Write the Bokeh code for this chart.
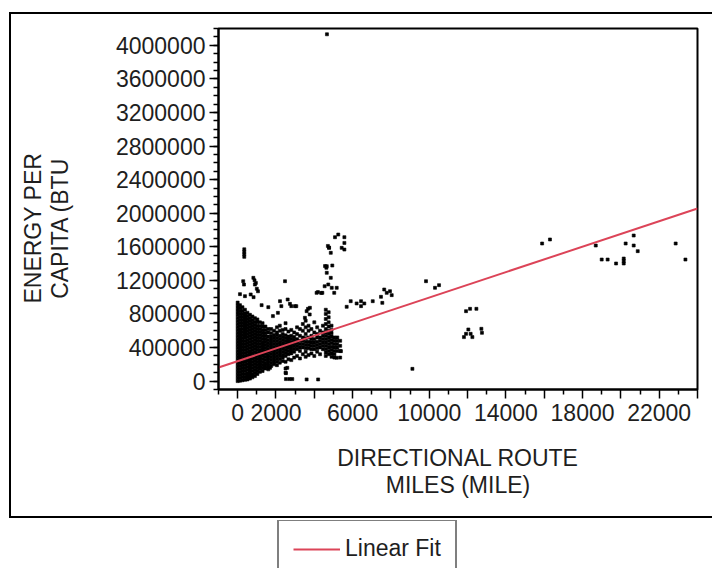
import numpy as np
from bokeh.plotting import figure
from bokeh.layouts import column
from bokeh.models import (Range1d, FixedTicker, Legend, LegendItem,
                          CustomJSTickFormatter, PrintfTickFormatter)
from bokeh.embed import file_html
from bokeh.resources import INLINE

# ---------------- data (x: route miles, y: thousand BTU per capita) ----------------
blob_col_x = [0, 120, 250, 380, 510, 640, 770, 900, 1030, 1160]
blob_col_y = [
    [0, 36, 72, 108, 144, 180, 216, 252, 288, 324, 360, 396, 432, 468, 504, 540, 576, 612, 648, 684, 720, 756, 792, 828, 864, 900, 935],
    [5, 40, 76, 112, 148, 184, 220, 256, 292, 328, 364, 400, 436, 472, 508, 544, 580, 616, 652, 688, 724, 760, 796, 832, 868, 905],
    [10, 46, 82, 118, 154, 190, 226, 262, 298, 334, 370, 406, 442, 478, 514, 550, 586, 622, 658, 694, 730, 766, 802, 838, 880],
    [15, 50, 86, 122, 158, 194, 230, 266, 302, 338, 374, 410, 446, 482, 518, 554, 590, 626, 662, 698, 734, 770, 806, 850],
    [20, 56, 92, 128, 164, 200, 236, 272, 308, 344, 380, 416, 452, 488, 524, 560, 596, 632, 668, 704, 740, 776, 815],
    [30, 66, 102, 138, 174, 210, 246, 282, 318, 354, 390, 426, 462, 498, 534, 570, 606, 642, 678, 714, 750, 790],
    [45, 80, 116, 152, 188, 224, 260, 296, 332, 368, 404, 440, 476, 512, 548, 584, 620, 656, 692, 728, 770],
    [60, 96, 132, 168, 204, 240, 276, 312, 348, 384, 420, 456, 492, 528, 564, 600, 636, 672, 708, 750],
    [85, 120, 156, 192, 228, 264, 300, 336, 372, 408, 444, 480, 516, 552, 588, 624, 660, 700, 735],
    [110, 150, 186, 222, 258, 294, 330, 366, 402, 438, 474, 510, 546, 582, 618, 655, 700],
]

tail_col_x = [1300, 1450, 1600, 1750, 1900, 2050, 2200, 2350, 2500, 2650, 2800, 2950, 3100, 3250,
              3400, 3550, 3700, 3850, 4000, 4150, 4300, 4450, 4600, 4750, 4900, 5050, 5200, 5350]
tail_col_y = [
    [120, 155, 190, 225, 260, 295, 330, 365, 400, 435, 470, 505, 540, 575, 610, 650, 690],
    [150, 185, 220, 255, 290, 325, 360, 395, 430, 465, 500, 535, 570, 610, 650],
    [140, 175, 210, 245, 280, 315, 350, 385, 420, 455, 490, 530, 580, 620],
    [180, 215, 250, 285, 320, 355, 390, 425, 460, 495, 530, 570, 620],
    [200, 235, 270, 305, 340, 375, 410, 445, 480, 515, 550, 600],
    [190, 230, 265, 300, 335, 370, 405, 440, 475, 510, 545, 580, 640],
    [220, 260, 295, 330, 365, 400, 435, 470, 505, 540, 600, 660],
    [240, 280, 315, 350, 385, 420, 455, 490, 525, 560, 610],
    [100, 150, 230, 300, 335, 370, 405, 440, 475, 510, 545, 620, 690],
    [260, 320, 355, 390, 425, 460, 495, 530, 590],
    [250, 330, 365, 400, 435, 470, 505, 540, 610],
    [280, 350, 385, 420, 455, 490, 525, 580],
    [300, 380, 415, 450, 500, 560, 640],
    [270, 360, 400, 440, 480, 540, 620],
    [320, 400, 440, 480, 520, 600, 680],
    [290, 350, 390, 430, 470, 510, 560, 640, 720],
    [310, 390, 430, 470, 520, 600, 660],
    [330, 380, 420, 460, 500, 540, 620],
    [300, 380, 420, 460, 500, 580, 700],
    [350, 390, 430, 470, 520, 560, 640],
    [320, 400, 440, 480, 520, 600],
    [380, 420, 460, 500, 540, 580, 660],
    [300, 340, 380, 420, 460, 500, 540, 580, 620, 680, 740, 800, 850],
    [320, 360, 400, 440, 480, 520, 560, 600, 650, 700, 760, 820],
    [290, 330, 370, 410, 450, 490, 530, 570, 610, 660],
    [280, 320, 360, 400, 440, 480, 520],
    [360, 400, 440, 480, 520],
    [280, 360, 420, 480],
]

stray_x = [345, 345, 345, 345, 290, 330, 820, 880, 950, 1000, 1060, 830, 900, 120, 380, 680,
           2470, 2210, 1250, 1600, 2610, 2730, 2990, 3600, 3770, 3510, 4120, 4420, 4770, 4560,
           4710, 4630, 4540, 2520, 2700, 2850, 3600, 4200, 1690, 2590, 2520, 5170, 5390, 1840,
           2100, 2280, 2800, 3060, 3670, 3760, 4190, 4360]
stray_y = [1480, 1510, 1540, 1570, 1190, 1150, 1230, 1200, 1170, 1100, 1070, 1000, 1150, 1036,
           1012, 1032, 1190, 952, 905, 881, 972, 920, 893, 833, 873, 754, 1051, 1051, 1590, 1370,
           1610, 1350, 1130, 24, 24, 24, 20, 20, 158, 158, 95, 278, 357, 774, 813, 893, 893, 893,
           861, 794, 1060, 1050]

far_x = [5250, 5080, 5570, 5570, 5430, 5570, 4770, 4860, 4940, 4650, 4650, 4860, 4730, 4910,
         5170, 5040, 5900, 5690, 6210, 6440, 6610, 6440, 7050, 7550, 7480, 7650, 7780, 7950,
         8040, 9830, 10300, 10510, 9120, 11810, 11920, 12040, 12160, 12250, 12720, 12750, 11920,
         12130, 12460, 15890, 16300, 18690, 19000, 19310, 19750, 20150, 20150, 20150, 20250,
         20670, 20670, 20880, 22860, 23370, 4660]
far_y = [1746, 1714, 1714, 1646, 1587, 1567, 1587, 1528, 1377, 1369, 1290, 1230, 1151, 1111,
         1111, 1051, 952, 885, 925, 952, 925, 893, 952, 932, 1004, 1091, 1051, 1071, 1024, 1190,
         1111, 1143, 146, 524, 563, 615, 563, 524, 623, 575, 833, 861, 861, 1639, 1687, 1615,
         1448, 1448, 1401, 1460, 1430, 1401, 1639, 1734, 1615, 1548, 1639, 1448, 4131]

fit_intercept = 237000.0   # BTU
fit_slope = 75.8           # BTU per mile

x_tick_values = [0, 2000, 4000, 6000, 8000, 10000, 12000, 14000, 16000, 18000, 20000, 22000, 24000]
x_tick_labels = ["0", "2000", "", "6000", "", "10000", "", "14000", "", "18000", "", "22000", ""]
x_minor_values = [-1000, 1000, 3000, 5000, 7000, 9000, 11000, 13000, 15000, 17000, 19000, 21000, 23000]
y_tick_values = [0, 400000, 800000, 1200000, 1600000, 2000000, 2400000, 2800000, 3200000, 3600000, 4000000]

x_title = "DIRECTIONAL ROUTE\nMILES (MILE)"
y_title_lines = ["ENERGY PER", "CAPITA (BTU"]
legend_label = "Linear Fit"

# ---------------- assemble ----------------
xs, ys = [], []
for cx, cys in zip(blob_col_x, blob_col_y):
    xs += [cx] * len(cys); ys += cys
for cx, cys in zip(tail_col_x, tail_col_y):
    xs += [cx] * len(cys); ys += cys
xs += stray_x; ys += stray_y
xs += far_x; ys += far_y
xs = np.array(xs, dtype=float)
ys = np.array(ys, dtype=float) * 1000.0

X0, X1 = -1000, 24000
Y0, Y1 = -100000, 4200000

FONT = "Liberation Sans"
TXT = "#1e1e1e"
RED = "#dc4458"
PAD = "\u00a0" * 6   # shifts the rotated title toward the bottom, as in the reference

p = figure(width=712, height=520, output_backend="svg", toolbar_location=None,
           x_range=Range1d(X0, X1), y_range=Range1d(Y0, Y1),
           min_border_left=218, min_border_right=15, min_border_top=28, min_border_bottom=131)
p.background_fill_color = "white"
p.border_fill_color = None
p.xgrid.visible = False
p.ygrid.visible = False
p.outline_line_color = "black"
p.outline_line_width = 2
# outer frame: lines painted on the page background behind the transparent border area
p.styles = {
    "background-color": "white",
    "background-image": "linear-gradient(#000,#000), linear-gradient(#000,#000), linear-gradient(#000,#000)",
    "background-position": "9px 12px, 9px 12px, 9px 516px",
    "background-size": "703px 2px, 2px 506px, 703px 2px",
    "background-repeat": "no-repeat",
}

p.scatter(xs, ys, marker="square", size=3, fill_color="black", line_color="black", line_width=0.6)

fx = np.array([X0, X1], dtype=float)
p.line(fx, fit_intercept + fit_slope * fx, line_color=RED, line_width=2)

for ax in (p.xaxis[0], p.yaxis[0]):
    ax.axis_line_color = "black"
    ax.axis_line_width = 2
    ax.major_tick_line_color = "black"
    ax.minor_tick_line_color = "black"
    ax.major_tick_line_width = 1.5
    ax.minor_tick_line_width = 1.5
    ax.major_tick_in = 0
    ax.major_tick_out = 9
    ax.minor_tick_in = 0
    ax.minor_tick_out = 5
    ax.major_label_text_font = FONT
    ax.major_label_text_font_size = "23px"
    ax.major_label_text_color = TXT
    ax.axis_label_text_font = FONT
    ax.axis_label_text_font_size = "23px"
    ax.axis_label_text_font_style = "normal"
    ax.axis_label_text_color = TXT
    ax.axis_label_text_align = "center"
    ax.axis_label_text_line_height = 1.05

p.xaxis[0].ticker = FixedTicker(ticks=x_tick_values, minor_ticks=x_minor_values)
p.xaxis[0].formatter = CustomJSTickFormatter(
    args=dict(vals=x_tick_values, labs=x_tick_labels),
    code="const i = vals.indexOf(tick); return i >= 0 ? labs[i] : '';")
p.xaxis[0].major_label_standoff = 5
p.xaxis[0].axis_label = x_title
p.xaxis[0].axis_label_standoff = 21

y_minor = list(np.arange(Y0, Y1 + 1, 100000))
p.yaxis[0].ticker = FixedTicker(ticks=y_tick_values, minor_ticks=y_minor)
p.yaxis[0].formatter = PrintfTickFormatter(format="%d")
p.yaxis[0].major_label_standoff = 4
p.yaxis[0].axis_label = "\n".join(t + PAD for t in y_title_lines)
p.yaxis[0].axis_label_standoff = 40

# legend strip below the chart box
lp = figure(width=712, height=48, output_backend="svg", toolbar_location=None,
            x_range=Range1d(0, 1), y_range=Range1d(0, 1), min_border=0)
lp.axis.visible = False
lp.xgrid.visible = False
lp.ygrid.visible = False
lp.outline_line_color = None
lp.background_fill_color = "white"
lp.border_fill_color = "white"
key = lp.line([5, 6], [5, 6], line_color=RED, line_width=2)   # off-range: only the legend key shows
legend = Legend(items=[LegendItem(label=legend_label, renderers=[key])], location=(59, -10),
                margin=0, padding=14, glyph_width=47, glyph_height=20, label_standoff=5,
                label_text_font=FONT, label_text_font_size="23px", label_text_color=TXT,
                border_line_color="black", border_line_width=2, background_fill_color="white")
lp.add_layout(legend)

page = column(p, lp, spacing=0)
open("out.html", "w").write(file_html(page, INLINE))
